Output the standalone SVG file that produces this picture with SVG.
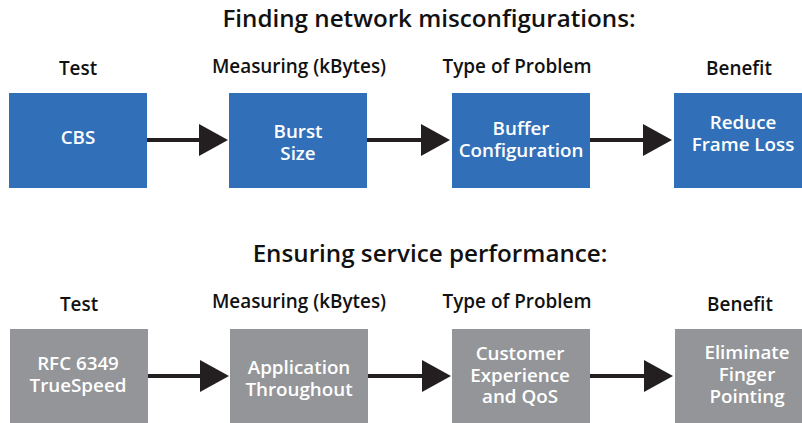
<svg xmlns="http://www.w3.org/2000/svg" width="802" height="423" viewBox="0 0 802 423">
<style>
text{font-family:"Open Sans","Noto Sans","Liberation Sans",sans-serif;font-weight:600;text-anchor:middle}
.title{font-size:24.2px;fill:#111}
.head{font-size:18.9px;fill:#111}
.lbl{font-size:18.8px;fill:#fff}
.blue{fill:#3170b9}
.gray{fill:#939598}
.conn{stroke:#231f20;stroke-width:4;fill:none;marker-end:url(#ah)}
</style>
<defs>
<marker id="ah" markerUnits="userSpaceOnUse" markerWidth="30" markerHeight="34" viewBox="0 -17 30 34" refX="0" refY="0" orient="auto" overflow="visible">
<path d="M0,-16 L29,0 L0,16 Z" fill="#231f20"/>
</marker>
</defs>
<rect width="802" height="423" fill="#fff"/>
<g id="titles">
<text class="title" x="429" y="27">Finding network misconfigurations:</text>
<text class="title" x="430" y="262">Ensuring service performance:</text>
</g>
<g id="headers">
<text class="head" x="78" y="75">Test</text>
<text class="head" x="299" y="73">Measuring (kBytes)</text>
<text class="head" x="517" y="73">Type of Problem</text>
<text class="head" x="739" y="75">Benefit</text>
<text class="head" x="79" y="311">Test</text>
<text class="head" x="299" y="308">Measuring (kBytes)</text>
<text class="head" x="517" y="308">Type of Problem</text>
<text class="head" x="740" y="311">Benefit</text>
</g>
<g id="connectors">
<line class="conn" x1="147" y1="140" x2="199" y2="140"/>
<line class="conn" x1="367" y1="140" x2="421" y2="140"/>
<line class="conn" x1="590" y1="140" x2="643" y2="140"/>
<line class="conn" x1="148" y1="376" x2="200" y2="376"/>
<line class="conn" x1="368" y1="376" x2="422" y2="376"/>
<line class="conn" x1="590" y1="376" x2="644" y2="376"/>
</g>
<g id="cbs">
<rect class="blue" x="9" y="93" width="138" height="95"/>
<text class="lbl" x="78" y="144">CBS</text>
</g>
<g id="burst-size">
<rect class="blue" x="229" y="93" width="138" height="95"/>
<text class="lbl" x="298" y="138">Burst</text>
<text class="lbl" x="298" y="160">Size</text>
</g>
<g id="buffer-configuration">
<rect class="blue" x="452" y="93" width="138" height="95"/>
<text class="lbl" x="521" y="135">Buffer</text>
<text class="lbl" x="521" y="157">Configuration</text>
</g>
<g id="reduce-frame-loss">
<rect class="blue" x="674" y="93" width="138" height="95"/>
<text class="lbl" x="743" y="129">Reduce</text>
<text class="lbl" x="743" y="151">Frame Loss</text>
</g>
<g id="rfc6349">
<rect class="gray" x="10" y="329" width="138" height="94"/>
<text class="lbl" x="78" y="370">RFC 6349</text>
<text class="lbl" x="78" y="392">TrueSpeed</text>
</g>
<g id="application-throughput">
<rect class="gray" x="230" y="329" width="138" height="94"/>
<text class="lbl" x="299" y="374">Application</text>
<text class="lbl" x="299" y="396">Throughout</text>
</g>
<g id="customer-experience">
<rect class="gray" x="452" y="329" width="138" height="94"/>
<text class="lbl" x="520" y="360">Customer</text>
<text class="lbl" x="520" y="382">Experience</text>
<text class="lbl" x="520" y="403">and QoS</text>
</g>
<g id="eliminate-finger-pointing">
<rect class="gray" x="675" y="329" width="138" height="94"/>
<text class="lbl" x="747" y="359">Eliminate</text>
<text class="lbl" x="747" y="381">Finger</text>
<text class="lbl" x="747" y="403">Pointing</text>
</g>
</svg>
